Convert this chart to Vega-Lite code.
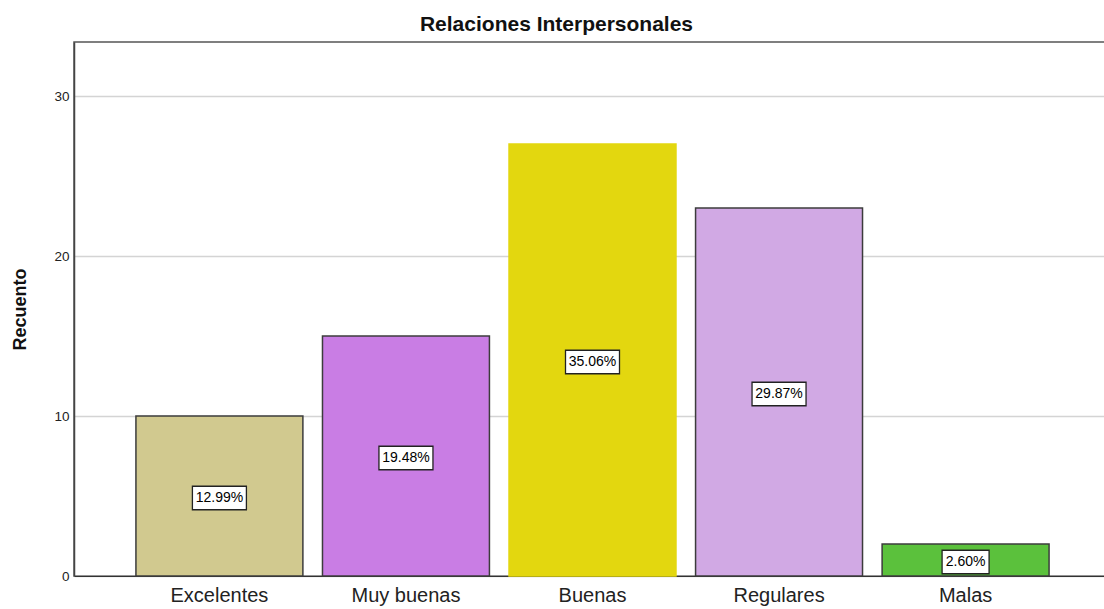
{
  "$schema": "https://vega.github.io/schema/vega-lite/v6.json",
  "autosize": {"type": "none"},
  "width": 1037,
  "height": 534,
  "padding": {"left": 74, "top": 42, "right": 0, "bottom": 33},
  "background": "white",
  "config": {
    "font": "Liberation Sans",
    "view": {"stroke": "#555555", "strokeWidth": 1.5}
  },
  "title": {
    "text": "Relaciones Interpersonales",
    "fontSize": 21,
    "fontWeight": "bold",
    "color": "#111111",
    "font": "Liberation Sans",
    "anchor": "middle",
    "dx": -36,
    "offset": 7
  },
  "data": {
    "values": [
      {"Categoria": "Excelentes", "Recuento": 10, "pct": "12.99%"},
      {"Categoria": "Muy buenas", "Recuento": 15, "pct": "19.48%"},
      {"Categoria": "Buenas", "Recuento": 27, "pct": "35.06%"},
      {"Categoria": "Regulares", "Recuento": 23, "pct": "29.87%"},
      {"Categoria": "Malas", "Recuento": 2, "pct": "2.60%"}
    ]
  },
  "encoding": {
    "x": {
      "field": "Categoria",
      "type": "nominal",
      "sort": null,
      "scale": {"paddingInner": 0.105, "paddingOuter": 0.332},
      "axis": {
        "title": null,
        "labelAngle": 0,
        "labelFontSize": 20,
        "labelColor": "#222222",
        "labelPadding": 9,
        "ticks": false,
        "domainColor": "#333333",
        "domainWidth": 1.2
      }
    }
  },
  "layer": [
    {
      "mark": {"type": "bar", "strokeWidth": 1.5},
      "encoding": {
        "y": {
          "field": "Recuento",
          "type": "quantitative",
          "scale": {"domain": [0, 33.375], "nice": false},
          "axis": {
            "title": "Recuento",
            "titleFontSize": 18,
            "titleFontWeight": "bold",
            "titleColor": "#111111",
            "titlePadding": 24,
            "values": [0, 10, 20, 30],
            "labelFontSize": 13.5,
            "labelColor": "#222222",
            "labelPadding": 5,
            "ticks": false,
            "grid": true,
            "gridColor": "#d4d4d4",
            "gridWidth": 1.5,
            "domainColor": "#444444",
            "domainWidth": 1.5
          }
        },
        "color": {
          "field": "Categoria",
          "type": "nominal",
          "legend": null,
          "scale": {
            "domain": ["Excelentes", "Muy buenas", "Buenas", "Regulares", "Malas"],
            "range": ["#d1c98f", "#c97de4", "#e3d70f", "#d1a9e4", "#5bc13c"]
          }
        },
        "stroke": {
          "condition": {"test": "datum.Categoria === 'Buenas'", "value": "#e3d70f"},
          "value": "#3c3c3c"
        }
      }
    },
    {
      "transform": [{"calculate": "datum.Recuento / 2", "as": "mid"}],
      "mark": {"type": "point", "filled": true, "fill": "white", "stroke": "#222222", "strokeWidth": 1.3, "opacity": 1, "yOffset": 2},
      "encoding": {
        "y": {"field": "mid", "type": "quantitative"},
        "shape": {
          "condition": {"test": "length(datum.pct) < 6", "value": "M-1,-0.5H1V0.5H-1Z"},
          "value": "M-1,-0.435H1V0.435H-1Z"
        },
        "size": {
          "condition": {"test": "length(datum.pct) < 6", "value": 2209},
          "value": 2916
        }
      }
    },
    {
      "transform": [{"calculate": "datum.Recuento / 2", "as": "mid"}],
      "mark": {"type": "text", "fontSize": 14, "color": "#000000", "baseline": "middle", "align": "center", "yOffset": 2},
      "encoding": {
        "y": {"field": "mid", "type": "quantitative"},
        "text": {"field": "pct"}
      }
    }
  ]
}
